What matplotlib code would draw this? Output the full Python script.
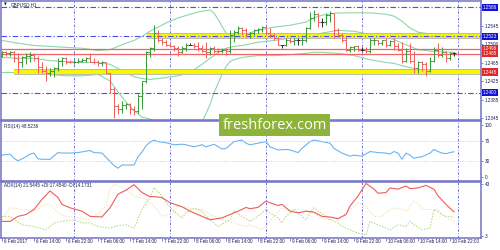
import numpy as np
import matplotlib.pyplot as plt
from matplotlib.patches import Rectangle

plt.rcParams['font.family'] = ['Liberation Sans', 'DejaVu Sans']

# GBPUSD H1, 6 Feb 06:00 .. 10 Feb 23:00 (bar index 0..113)
opens = [1.2481, 1.2488, 1.2486, 1.2488, 1.2475, 1.2466, 1.2477, 1.2481, 1.2483, 1.2475,
         1.2457, 1.2448, 1.2444, 1.2448, 1.2453, 1.2470, 1.2475, 1.2468, 1.2466, 1.2468,
         1.2470, 1.2472, 1.2475, 1.2468, 1.2466, 1.2464, 1.2466, 1.2444, 1.2409, 1.2371,
         1.2365, 1.2374, 1.2376, 1.2365, 1.2361, 1.2393, 1.2426, 1.2488, 1.2497, 1.2530,
         1.2514, 1.2510, 1.2505, 1.2501, 1.2497, 1.2488, 1.2497, 1.2505, 1.2505, 1.2501,
         1.2497, 1.2492, 1.2488, 1.2497, 1.2492, 1.2490, 1.2494, 1.2492, 1.2525, 1.2532,
         1.2541, 1.2536, 1.2527, 1.2530, 1.2536, 1.2538, 1.2543, 1.2530, 1.2525, 1.2519,
         1.2503, 1.2503, 1.2516, 1.2512, 1.2514, 1.2514, 1.2516, 1.2541, 1.2563, 1.2571,
         1.2554, 1.2554, 1.2569, 1.2574, 1.2536, 1.2525, 1.2514, 1.2494, 1.2499, 1.2501,
         1.2494, 1.2494, 1.2490, 1.2514, 1.2516, 1.2508, 1.2514, 1.2503, 1.2512, 1.2501,
         1.2494, 1.2470, 1.2492, 1.2470, 1.2453, 1.2466, 1.2462, 1.2448, 1.2470, 1.2494,
         1.2483, 1.2488, 1.2475, 1.2486]
highs = [1.2490, 1.2492, 1.2490, 1.2490, 1.2486, 1.2481, 1.2486, 1.2488, 1.2486, 1.2481,
         1.2466, 1.2459, 1.2453, 1.2457, 1.2475, 1.2479, 1.2477, 1.2472, 1.2472, 1.2475,
         1.2475, 1.2477, 1.2486, 1.2475, 1.2472, 1.2470, 1.2468, 1.2444, 1.2413, 1.2376,
         1.2382, 1.2378, 1.2378, 1.2371, 1.2398, 1.2426, 1.2492, 1.2499, 1.2547, 1.2536,
         1.2519, 1.2514, 1.2510, 1.2505, 1.2501, 1.2501, 1.2508, 1.2508, 1.2508, 1.2510,
         1.2505, 1.2510, 1.2499, 1.2501, 1.2497, 1.2497, 1.2497, 1.2536, 1.2536, 1.2545,
         1.2543, 1.2541, 1.2532, 1.2538, 1.2541, 1.2545, 1.2545, 1.2541, 1.2530, 1.2521,
         1.2505, 1.2519, 1.2519, 1.2519, 1.2519, 1.2521, 1.2543, 1.2576, 1.2580, 1.2574,
         1.2563, 1.2574, 1.2578, 1.2574, 1.2541, 1.2530, 1.2521, 1.2501, 1.2501, 1.2503,
         1.2499, 1.2499, 1.2519, 1.2519, 1.2516, 1.2516, 1.2519, 1.2514, 1.2519, 1.2508,
         1.2510, 1.2497, 1.2508, 1.2492, 1.2470, 1.2470, 1.2466, 1.2477, 1.2499, 1.2508,
         1.2499, 1.2490, 1.2488, 1.2488]
lows = [1.2479, 1.2481, 1.2481, 1.2466, 1.2444, 1.2457, 1.2462, 1.2466, 1.2470, 1.2442,
        1.2442, 1.2426, 1.2437, 1.2435, 1.2448, 1.2459, 1.2462, 1.2464, 1.2462, 1.2464,
        1.2466, 1.2466, 1.2466, 1.2462, 1.2459, 1.2459, 1.2442, 1.2400, 1.2345, 1.2354,
        1.2356, 1.2365, 1.2354, 1.2352, 1.2356, 1.2365, 1.2422, 1.2479, 1.2492, 1.2510,
        1.2503, 1.2501, 1.2499, 1.2492, 1.2481, 1.2486, 1.2492, 1.2503, 1.2497, 1.2492,
        1.2488, 1.2475, 1.2483, 1.2486, 1.2486, 1.2486, 1.2483, 1.2486, 1.2510, 1.2527,
        1.2525, 1.2521, 1.2519, 1.2525, 1.2530, 1.2532, 1.2525, 1.2521, 1.2514, 1.2503,
        1.2497, 1.2501, 1.2508, 1.2505, 1.2503, 1.2505, 1.2510, 1.2538, 1.2556, 1.2543,
        1.2543, 1.2547, 1.2554, 1.2519, 1.2521, 1.2510, 1.2492, 1.2488, 1.2490, 1.2490,
        1.2492, 1.2486, 1.2486, 1.2505, 1.2503, 1.2503, 1.2499, 1.2501, 1.2494, 1.2492,
        1.2464, 1.2466, 1.2464, 1.2442, 1.2442, 1.2448, 1.2437, 1.2446, 1.2468, 1.2477,
        1.2479, 1.2468, 1.2472, 1.2481]
closes = [1.2488, 1.2486, 1.2488, 1.2475, 1.2466, 1.2477, 1.2481, 1.2483, 1.2475, 1.2457,
          1.2448, 1.2444, 1.2448, 1.2453, 1.2470, 1.2475, 1.2468, 1.2466, 1.2468, 1.2470,
          1.2472, 1.2475, 1.2468, 1.2466, 1.2464, 1.2466, 1.2444, 1.2409, 1.2371, 1.2365,
          1.2374, 1.2376, 1.2365, 1.2361, 1.2393, 1.2426, 1.2488, 1.2497, 1.2530, 1.2514,
          1.2510, 1.2505, 1.2501, 1.2497, 1.2488, 1.2497, 1.2505, 1.2505, 1.2501, 1.2497,
          1.2492, 1.2488, 1.2497, 1.2492, 1.2490, 1.2494, 1.2492, 1.2525, 1.2532, 1.2541,
          1.2536, 1.2527, 1.2530, 1.2536, 1.2538, 1.2543, 1.2530, 1.2525, 1.2519, 1.2503,
          1.2503, 1.2516, 1.2512, 1.2514, 1.2514, 1.2516, 1.2541, 1.2563, 1.2571, 1.2554,
          1.2554, 1.2569, 1.2574, 1.2536, 1.2525, 1.2514, 1.2494, 1.2499, 1.2501, 1.2494,
          1.2494, 1.2490, 1.2514, 1.2516, 1.2508, 1.2514, 1.2503, 1.2512, 1.2501, 1.2494,
          1.2470, 1.2492, 1.2470, 1.2453, 1.2466, 1.2462, 1.2448, 1.2470, 1.2494, 1.2483,
          1.2488, 1.2475, 1.2486, 1.2486]

# Bollinger bands
bb_idx = [0, 4, 8, 12, 16, 20, 24, 27, 29, 31, 33, 35, 37, 39, 41, 44, 47, 50, 52, 53, 54,
          55, 56, 57, 58, 60, 64, 68, 72, 76, 78, 80, 84, 88, 92, 96, 98, 100, 102, 104, 108, 113]
bb_upper = [1.2514, 1.2508, 1.2503, 1.2501, 1.2499, 1.2497, 1.2492, 1.2494, 1.2501, 1.2508,
            1.2514, 1.2523, 1.2534, 1.2543, 1.2552, 1.2563, 1.2571, 1.2578, 1.2580, 1.2574,
            1.2560, 1.2545, 1.2530, 1.2521, 1.2521, 1.2525, 1.2536, 1.2543, 1.2547, 1.2554,
            1.2563, 1.2569, 1.2574, 1.2574, 1.2574, 1.2571, 1.2567, 1.2556, 1.2541, 1.2532,
            1.2527, 1.2525]
bb_mid = [1.2477, 1.2475, 1.2475, 1.2470, 1.2468, 1.2466, 1.2466, 1.2462, 1.2453, 1.2444,
          1.2435, 1.2431, 1.2429, 1.2431, 1.2433, 1.2437, 1.2444, 1.2462, 1.2475, 1.2481,
          1.2488, 1.2492, 1.2497, 1.2499, 1.2501, 1.2503, 1.2510, 1.2514, 1.2519, 1.2521,
          1.2525, 1.2530, 1.2536, 1.2534, 1.2527, 1.2521, 1.2516, 1.2508, 1.2501, 1.2494,
          1.2490, 1.2488]
bb_lower = [1.2444, 1.2444, 1.2442, 1.2440, 1.2437, 1.2437, 1.2440, 1.2426, 1.2402, 1.2380,
            1.2361, 1.2347, 1.2343, 1.2336, 1.2330, 1.2325, 1.2325, 1.2336, 1.2374, 1.2400,
            1.2420, 1.2440, 1.2457, 1.2468, 1.2472, 1.2477, 1.2481, 1.2481, 1.2483, 1.2486,
            1.2488, 1.2488, 1.2486, 1.2481, 1.2472, 1.2466, 1.2464, 1.2459, 1.2455, 1.2451,
            1.2448, 1.2446]

rsi_idx = [0, 2, 3, 4, 6, 7, 8, 9, 10, 12, 14, 15, 17, 19, 22, 23, 25, 26, 28, 29, 30, 32, 33,
           34, 35, 36, 37, 38, 39, 41, 43, 45, 46, 48, 50, 51, 53, 55, 56, 58, 60, 61, 62, 64,
           66, 67, 69, 71, 72, 74, 75, 77, 78, 80, 82, 83, 85, 87, 88, 90, 92, 94, 96, 97, 98,
           99, 100, 101, 102, 103, 104, 105, 107, 108, 109, 110, 111, 112, 113]
rsi_val = [42, 44, 36, 31, 39, 44, 46, 35, 34, 34, 47, 46, 46, 47, 51, 47, 46, 38, 22, 17, 23,
           23, 23, 39, 48, 60, 67, 71, 68, 66, 62, 63, 62, 58, 62, 58, 63, 54, 55, 68, 71, 65,
           62, 65, 68, 58, 52, 53, 52, 47, 55, 68, 71, 68, 65, 55, 46, 40, 42, 40, 49, 47, 46,
           44, 49, 46, 34, 46, 42, 36, 38, 39, 46, 53, 49, 46, 45, 47, 48.52]

adx_idx = [0, 2, 4, 6, 8, 10, 12, 14, 15, 17, 20, 22, 25, 27, 29, 31, 33, 35, 37, 38, 40, 42,
           45, 47, 50, 52, 55, 57, 60, 61, 62, 64, 66, 67, 69, 70, 72, 74, 76, 78, 80, 82, 84,
           86, 87, 89, 91, 93, 94, 96, 97, 99, 101, 102, 104, 106, 108, 109, 111, 113]
adx_val = [14.2, 14.2, 18.1, 19.5, 23.4, 31.2, 37.7, 32.6, 27.3, 24.7, 22.1, 18.1, 17.6, 24.7,
           35.2, 38.3, 42.5, 36.5, 33.3, 33.3, 32.6, 28.6, 25.5, 22.1, 18.1, 15.5, 16.9, 19.5,
           23.4, 25.0, 24.0, 25.0, 29.9, 28.6, 26.5, 27.3, 22.1, 20.8, 22.1, 21.3, 18.1, 17.6,
           16.3, 19.5, 26.0, 33.8, 43.5, 39.1, 35.9, 36.5, 40.0, 39.1, 41.5, 39.5, 40.0, 42.0,
           39.0, 34.0, 27.3, 21.54]

pdi_idx = [0, 2, 5, 8, 11, 13, 15, 18, 20, 22, 24, 27, 29, 31, 33, 35, 37, 38, 40, 41, 43, 45,
           46, 48, 50, 51, 54, 57, 58, 60, 62, 64, 66, 67, 69, 70, 71, 73, 75, 76, 77, 78, 79,
           81, 82, 84, 85, 87, 89, 91, 92, 94, 96, 97, 99, 101, 102, 103, 105, 107, 108, 110,
           111, 113]
pdi_val = [18.1, 18.1, 11.6, 10.3, 7.7, 13.0, 14.2, 15.5, 13.0, 13.0, 10.3, 9.0, 11.0, 11.6,
           9.0, 23.4, 32.6, 40.4, 33.8, 28.6, 22.1, 16.9, 20.8, 24.7, 22.1, 18.1, 10.3, 15.5,
           22.1, 18.1, 14.2, 18.1, 23.4, 20.8, 16.9, 13.0, 18.1, 23.4, 18.1, 15.5, 20.8, 24.7,
           22.1, 18.1, 15.5, 13.0, 10.3, 7.7, 5.1, 3.8, 14.2, 11.6, 9.0, 7.7, 11.6, 10.3, 14.2,
           11.6, 7.7, 9.0, 23.4, 19.5, 18.1, 17.45]

mdi_idx = [0, 2, 5, 8, 11, 12, 14, 16, 19, 22, 26, 27, 28, 31, 33, 36, 38, 40, 43, 44, 47, 50,
           53, 55, 58, 61, 62, 65, 67, 70, 72, 75, 77, 80, 82, 85, 87, 89, 91, 93, 95, 97, 99,
           101, 103, 105, 106, 109, 110, 112, 113]
mdi_val = [15.5, 24.7, 23.4, 22.1, 27.3, 27.3, 20.8, 18.1, 16.9, 15.5, 26.0, 39.1, 43.0, 39.1,
           33.8, 31.2, 26.0, 18.1, 20.8, 27.0, 24.0, 23.4, 18.1, 15.5, 13.0, 10.3, 11.6, 7.7,
           14.2, 24.7, 23.4, 23.4, 22.1, 16.9, 15.5, 18.1, 23.4, 28.6, 26.0, 18.1, 18.1, 23.4,
           24.7, 22.1, 29.9, 24.7, 23.4, 23.4, 19.5, 15.5, 14.17]

time_labels = ['6 Feb 2017', '6 Feb 14:00', '6 Feb 22:00', '7 Feb 06:00', '7 Feb 14:00',
               '7 Feb 22:00', '8 Feb 06:00', '8 Feb 14:00', '8 Feb 22:00', '9 Feb 06:00',
               '9 Feb 14:00', '9 Feb 22:00', '10 Feb 06:00', '10 Feb 14:00', '10 Feb 22:00']
day_starts = [18, 42, 66, 90, 114]

price_ticks = [1.2545, 1.2506, 1.2465, 1.2425, 1.2385, 1.2345]
blue_levels = [1.2586, 1.2523, 1.2400]
red_levels = [1.2496, 1.2485]
yellow_levels = [1.2523, 1.2445]
yellow_start = [36.25, 3]
box_red = [1.2496, 1.2485, 1.2445]

FRAME = '#7272c6'
TXT = '#1c1c50'
UP, DOWN, FLAT = '#3d9b3d', '#f06262', '#303030'
BBC = '#8fd6aa'
FS = 3.3

fig = plt.figure(figsize=(5, 2.5), dpi=100)
L, W = 0.002, 0.96
ax = fig.add_axes([L, 0.52, W, 0.476])
ax_rsi = fig.add_axes([L, 0.276, W, 0.24])
ax_adx = fig.add_axes([L, 0.048, W, 0.224])

for a in (ax, ax_rsi, ax_adx):
    a.set_xlim(-0.25, 119.75)
    for s in a.spines.values():
        s.set_color(FRAME)
        s.set_linewidth(1.1)
    a.yaxis.tick_right()
    a.tick_params(axis='y', labelsize=FS, colors=FRAME, labelcolor=TXT, length=1.5,
                  width=0.6, pad=1)
    a.set_xticks([])
    for d in day_starts:
        a.axvline(d, color='#5a5ac8', lw=0.6, ls=(0, (3, 2, 1, 2)), zorder=1)

# ---- price panel ----
x = np.arange(len(opens))
o = np.array(opens)
c = np.array(closes)
cols = np.where(c > o, UP, np.where(c < o, DOWN, FLAT))

ax.plot(bb_idx, bb_upper, color=BBC, lw=0.8, zorder=2)
ax.plot(bb_idx, bb_mid, color=BBC, lw=0.8, zorder=2)
ax.plot(bb_idx, bb_lower, color=BBC, lw=0.8, zorder=2)

for lv, st in zip(yellow_levels, yellow_start):
    ax.plot([st, 119.75], [lv, lv], color='#b8b8a8', lw=4.2, solid_capstyle='butt', zorder=2)
    ax.plot([st, 119.75], [lv, lv], color='#f8f800', lw=2.8, solid_capstyle='butt', zorder=2)
for lv in red_levels:
    ax.axhline(lv, color='#f06464', lw=0.9, zorder=2)
for lv in blue_levels:
    ax.axhline(lv, color='#4c4cee', lw=0.8, ls=(0, (5, 2, 1, 2)), zorder=3)

ax.vlines(x, lows, highs, colors=cols, lw=0.75, zorder=4)
ax.hlines(opens, x - 0.45, x, colors=cols, lw=0.75, zorder=4)
ax.hlines(closes, x, x + 0.45, colors=cols, lw=0.75, zorder=4)

ax.set_ylim(1.23407, 1.25999)
ax.set_yticks(price_ticks)
ax.set_yticklabels([f'{v:.4f}' for v in price_ticks])

for lv in blue_levels + box_red:
    fc = '#e02828' if lv in box_red else '#1212d8'
    ax.text(1.004, lv, f'{lv:.4f}', transform=ax.get_yaxis_transform(), fontsize=FS,
            color='white', ha='left', va='center', zorder=6, clip_on=False,
            bbox=dict(boxstyle='square,pad=0.25', fc=fc, ec='none'))

ax.text(0.006, 0.968, '▼', transform=ax.transAxes, fontsize=2.6, color=TXT,
        family='DejaVu Sans', va='center')
ax.text(0.02, 0.968, 'GBPUSD,H1', transform=ax.transAxes, fontsize=FS, color=TXT,
        va='center')

# ---- RSI ----
ax_rsi.plot(rsi_idx, rsi_val, color='#6ab4f2', lw=0.8)
for lv in (70, 30):
    ax_rsi.axhline(lv, color='#c8c8c8', lw=0.5, ls=(0, (2, 2)))
ax_rsi.set_ylim(-7.7, 107.7)
ax_rsi.set_yticks([100, 70, 30, 0])
ax_rsi.text(0.006, 0.91, 'RSI(14) 48.5236', transform=ax_rsi.transAxes, fontsize=FS,
            color=TXT, va='center')

# ---- ADX ----
ax_adx.plot(mdi_idx, mdi_val, color='#f5dcb4', lw=0.7, ls=(0, (1.5, 1.5)))
ax_adx.plot(pdi_idx, pdi_val, color='#b4d26e', lw=0.7, ls=(0, (1.5, 1.5)))
ax_adx.plot(adx_idx, adx_val, color='#f05c5c', lw=0.8)
ax_adx.set_ylim(1.4, 44.6)
ax_adx.set_yticks([43, 3])
ax_adx.text(0.006, 0.93, 'ADX(14) 21.5445 +DI:17.4540 -DI:14.1731', transform=ax_adx.transAxes,
            fontsize=FS, color=TXT, va='center')

tick_pos = np.arange(0, 8 * len(time_labels), 8)
ax_adx.set_xticks(tick_pos)
ax_adx.set_xticklabels([])
ax_adx.tick_params(axis='x', length=2, width=0.6, colors=FRAME)
for p, lab in zip(tick_pos, time_labels):
    ax_adx.text(p + 0.4, -0.06, lab, transform=ax_adx.get_xaxis_transform(), fontsize=FS,
                color=TXT, ha='left', va='center', clip_on=False)

# watermark
fig.add_artist(Rectangle((0.438, 0.457), 0.222, 0.087, transform=fig.transFigure,
                         fc='#8db33a', ec='none', zorder=10))
fig.text(0.549, 0.499, 'freshforex.com', color='white', fontsize=10.5, ha='center',
         va='center', family=['Open Sans', 'DejaVu Sans'], zorder=11)

fig.savefig('out.png', dpi=100, facecolor='white')
